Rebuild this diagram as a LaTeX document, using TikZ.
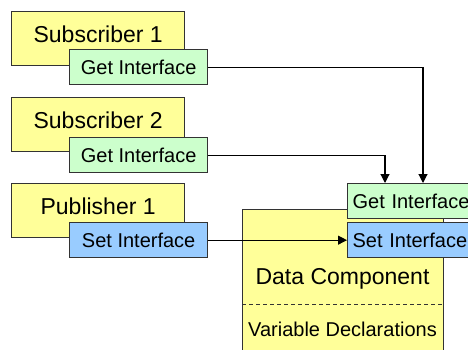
\documentclass[tikz,border=0pt]{standalone}
\usepackage{fontspec}
\setmainfont{Liberation Sans}
\usetikzlibrary{arrows.meta}
\definecolor{compfill}{HTML}{FFFF99}
\definecolor{getfill}{HTML}{CCFFCC}
\definecolor{setfill}{HTML}{99CCFF}
\definecolor{edge}{HTML}{333333}
\begin{document}
\begin{tikzpicture}[x=1pt,y=-1pt,
  comp/.style={draw=edge, line width=1.3pt, fill=compfill, anchor=north west,
    minimum width=173pt, minimum height=54pt, inner sep=0pt,
    font=\fontsize{23}{23}\selectfont, text height=16.5pt, text depth=8pt},
  iface/.style={draw=edge, line width=1.3pt, anchor=north west,
    minimum width=138pt, minimum height=35pt, inner sep=0pt,
    font=\fontsize{20}{20}\selectfont, text height=14.3pt, text depth=0pt},
  sideiface/.style={iface, text width=128pt, align=left, inner xsep=5pt},
  lbl/.style={inner sep=0pt, font=\fontsize{#1}{#1}\selectfont},
  arr/.style={draw=black, line width=1.1pt, -{Triangle[length=9pt,width=9pt]}}]
\useasboundingbox (0,0) rectangle (468,350);
\clip (0,0) rectangle (468,350);
\fill[white] (0,0) rectangle (468,350);

% publishers and subscribers with their interfaces
\node[comp] (sub1) at (11,11) {Subscriber 1};
\node[iface, fill=getfill] (get1) at (69,49) {Get Interface};
\node[comp] (sub2) at (11,97) {Subscriber 2};
\node[iface, fill=getfill] (get2) at (69,137) {Get Interface};
\node[comp] (pub1) at (11,183) {Publisher 1};
\node[iface, fill=setfill] (set1) at (69,222) {Set Interface};

% the shared data component
\node[draw=edge, line width=1.3pt, fill=compfill, anchor=north west,
  minimum width=201pt, minimum height=170pt] (data) at (242,209) {};
\draw[edge, line width=1pt, dash pattern=on 4pt off 3pt]
  (data.north west |- 0,304) -- (data.north east |- 0,304);
\node[lbl=23] (dtitle) at (342.5,279) {Data Component};
\node[lbl=20] (dvars) at (342.5,329.5) {Variable Declarations};
\node[sideiface, fill=getfill] (dget) at (347,183) {Get Interface};
\node[sideiface, fill=setfill] (dset) at (347,222) {Set Interface};

% connections
\draw[arr] (get1.east) -| ([xshift=76pt]dget.north west);
\draw[arr] (get2.east) -| ([xshift=38pt]dget.north west);
\draw[arr] (set1.east) -- (dset.west);
\end{tikzpicture}
\end{document}
